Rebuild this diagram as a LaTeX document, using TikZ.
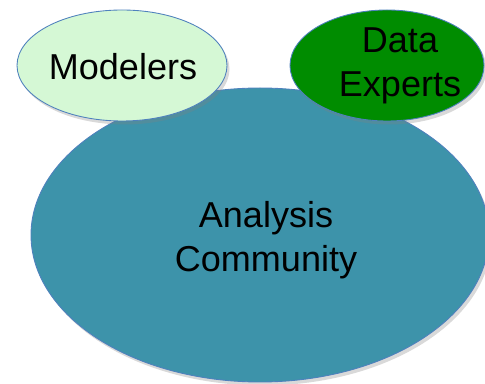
\documentclass[tikz,border=0pt]{standalone}
\usepackage{fontspec}
\setmainfont{Liberation Sans}
\usetikzlibrary{shapes.geometric,shadows}
\definecolor{edgeblue}{RGB}{79,129,189}
\definecolor{teal}{RGB}{61,147,170}
\definecolor{palegreen}{RGB}{213,248,213}
\definecolor{darkgreen}{RGB}{0,140,0}
\tikzset{
    blob/.style={ellipse, draw=edgeblue, line width=0.5pt, inner sep=0pt,
        drop shadow={opacity=0.3, shadow xshift=0.05cm, shadow yshift=-0.07cm}},
    lbl/.style={align=center, font=\fontsize{20.5}{25.3}\selectfont}
}
\begin{document}
\begin{tikzpicture}
                %\draw[help lines] (0,0) grid (10,8);
                \useasboundingbox (0,0) rectangle (9.7,7.68);
                \draw (5.2,2.98) coordinate(ac);
                \draw (2.44,6.37) coordinate(mo);
                \draw (7.74,6.37) coordinate(de);
                \node[blob, fill=teal, minimum width=9.16cm, minimum height=5.88cm] (community) at (ac) {};
                \node[blob, fill=palegreen, minimum width=4.2cm, minimum height=2.22cm] (modelers) at (mo) {};
                \node[blob, fill=darkgreen, minimum width=3.88cm, minimum height=2.22cm] (experts) at (de) {};
                \node[lbl] (communitytext) at (5.32,2.88) {Analysis\\Community};
                \node[lbl] (modelerstext) at (2.46,6.34) {Modelers};
                \node[lbl] (expertstext) at (8.0,6.36) {Data\\Experts};
            \end{tikzpicture}
\end{document}
